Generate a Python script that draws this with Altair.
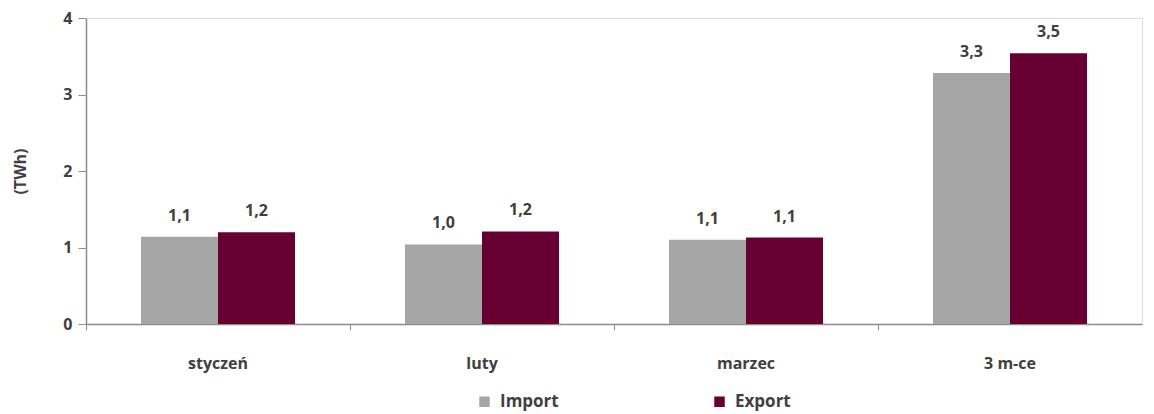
import altair as alt
import pandas as pd

categories = ["styczeń", "luty", "marzec", "3 m-ce"]
series_names = ["Import", "Export"]
import_values = [1.14, 1.04, 1.10, 3.28]
export_values = [1.20, 1.21, 1.13, 3.54]
colors = ["#A6A6A6", "#660033"]
y_ticks = [0, 1, 2, 3, 4]

rows = []
for c, iv, ev in zip(categories, import_values, export_values):
    for s, v in zip(series_names, [iv, ev]):
        rows.append({"kategoria": c, "seria": s, "wartosc": v,
                     "etykieta": f"{v:.1f}".replace(".", ",")})
df = pd.DataFrame(rows)

FONT = "Open Sans"
TXT = "#404040"
AX = "#8C8C8C"

x = alt.X("kategoria:N", sort=categories, title=None,
          scale=alt.Scale(paddingInner=0.0, paddingOuter=0.0),
          axis=alt.Axis(bandPosition=0, labelAngle=0, labelFont=FONT, labelFontSize=16,
                        labelFontWeight="bold", labelColor=TXT, labelPadding=25,
                        tickSize=6, tickColor=AX, domainColor=AX, domainWidth=1.5))
xo = alt.XOffset("seria:N", sort=series_names,
                 scale=alt.Scale(paddingOuter=0.714, paddingInner=0))
y = alt.Y("wartosc:Q", title="(TWh)",
          scale=alt.Scale(domain=[0, 4], nice=False),
          axis=alt.Axis(values=y_ticks, format="d", grid=False, labelFont=FONT,
                        labelFontSize=16, labelFontWeight="bold", labelColor=TXT,
                        labelPadding=6, tickSize=8, tickColor=AX, domainColor=AX,
                        domainWidth=1.5, titleFont=FONT, titleFontSize=16,
                        titleFontWeight="bold", titleColor=TXT, titlePadding=34))

bars = alt.Chart(df).mark_bar().encode(
    x=x, xOffset=xo, y=y,
    color=alt.Color("seria:N", sort=series_names,
                    scale=alt.Scale(domain=series_names, range=colors),
                    legend=alt.Legend(title=None, orient="none", direction="horizontal",
                                      legendX=390, legendY=375, symbolType="square",
                                      symbolSize=110, symbolStrokeWidth=0,
                                      labelFont=FONT, labelFontSize=17,
                                      labelFontWeight="bold", labelColor=TXT,
                                      labelOffset=7, columnPadding=152)),
)

labels = alt.Chart(df).mark_text(baseline="bottom", dy=-13, font=FONT, fontSize=16,
                                 fontWeight="bold", color=TXT).encode(
    x=alt.X("kategoria:N", sort=categories),
    xOffset=alt.XOffset("seria:N", sort=series_names),
    y=alt.Y("wartosc:Q"),
    text="etykieta:N",
)

chart = alt.layer(bars, labels).properties(
    width=1056, height=306,
    autosize=alt.AutoSizeParams(type="none"),
    padding={"left": 86, "top": 18, "right": 12, "bottom": 90},
).configure_view(stroke=None).configure(background="white")

chart.save("out.html", embed_options={"renderer": "svg", "actions": False})
